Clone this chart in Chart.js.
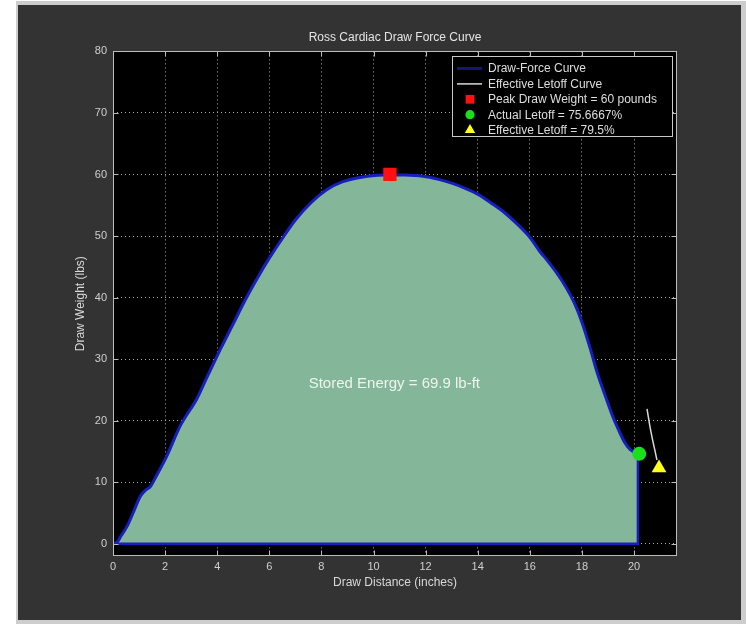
<!DOCTYPE html>
<html>
<head>
<meta charset="utf-8">
<script src="https://cdn.jsdelivr.net/npm/chart.js@4.4.1/dist/chart.umd.min.js"></script>
<style>
html,body{margin:0;padding:0;background:#fff;}
canvas{display:block;}
</style>
</head>
<body>
<canvas id="c" width="746" height="624"></canvas>
<script>
// ---- data ----
const drawDistance = [0, 0.15, 0.3, 0.55, 0.8, 1.05, 1.25, 1.42, 1.6, 2.05, 2.6, 3.2, 3.6, 4.1, 4.6, 5.1, 5.6, 6.0, 6.5, 7.0, 7.6, 8.2, 8.8, 9.6, 10.4, 11.2, 11.9, 12.5, 13.0, 13.5, 14.0, 14.5, 15.0, 15.5, 16.0, 16.4, 16.6, 17.0, 17.4, 17.7, 18.0, 18.3, 18.6, 18.9, 19.2, 19.45, 19.65, 19.85, 20.0, 20.15];
const drawWeight   = [0, 0.2, 1.2, 2.9, 5.3, 7.7, 8.7, 9.2, 10.5, 14.1, 19.3, 23.4, 27.0, 31.4, 35.6, 39.8, 43.6, 46.4, 49.6, 52.6, 55.4, 57.5, 58.8, 59.6, 59.9, 59.9, 59.7, 59.2, 58.6, 57.8, 56.8, 55.4, 53.9, 52.0, 49.8, 47.4, 46.4, 44.2, 41.6, 39.2, 36.0, 32.0, 27.6, 24.0, 20.5, 18.1, 16.4, 15.3, 14.9, 14.6];
const letoffCurveX = [20.5, 20.6, 20.7, 20.8, 20.88];
const letoffCurveY = [21.9, 19.3, 17.1, 15.2, 13.6];
const peakPoint = [{x: 10.63, y: 60}];
const actualLetoffPoint = [{x: 20.2, y: 14.6}];
const effectiveLetoffPoint = [{x: 20.96, y: 12.3}];
const xTicks = [0, 2, 4, 6, 8, 10, 12, 14, 16, 18, 20];
const yTicks = [0, 10, 20, 30, 40, 50, 60, 70, 80];
const legendLabels = ['Draw-Force Curve', 'Effective Letoff Curve', 'Peak Draw Weight = 60 pounds', 'Actual Letoff = 75.6667%', 'Effective Letoff = 79.5%'];
const titleText = 'Ross Cardiac Draw Force Curve';
const xTitle = 'Draw Distance (inches)';
const yTitle = 'Draw Weight (lbs)';
const energyText = 'Stored Energy = 69.9 lb-ft';
const energyAt = {x: 10.8, y: 26};

// ---- build ----
const FONT = "'Liberation Sans', Arial, Helvetica, sans-serif";
const curve = drawDistance.map((x, i) => ({x, y: drawWeight[i]}));
const last = curve[curve.length - 1];
const edge = [{x: last.x, y: last.y}, {x: last.x, y: 0}, {x: drawDistance[0], y: 0}];
const letoff = letoffCurveX.map((x, i) => ({x, y: letoffCurveY[i]}));

const BLUE = 'rgb(22,30,190)';

const bgPlugin = {
  id: 'bg',
  beforeDraw(chart) {
    const ctx = chart.ctx, a = chart.chartArea;
    ctx.save();
    ctx.fillStyle = '#ffffff';
    ctx.fillRect(0, 0, chart.width, chart.height);
    ctx.fillStyle = '#cdcdcd';
    ctx.fillRect(16, 1, chart.width - 16, chart.height - 1);
    ctx.fillStyle = '#333333';
    ctx.fillRect(18, 5, chart.width - 18 - 5, chart.height - 5 - 4);
    ctx.fillStyle = '#000000';
    ctx.fillRect(a.left, a.top, a.right - a.left, a.bottom - a.top);
    ctx.restore();
  }
};

const framePlugin = {
  id: 'frame',
  afterDatasetsDraw(chart) {
    const ctx = chart.ctx, a = chart.chartArea;
    const xs = chart.scales.x, ys = chart.scales.y;
    ctx.save();
    // stored energy text
    ctx.fillStyle = '#eef4ee';
    ctx.font = '15px ' + FONT;
    ctx.textAlign = 'center';
    ctx.textBaseline = 'middle';
    ctx.fillText(energyText, xs.getPixelForValue(energyAt.x), ys.getPixelForValue(energyAt.y));
    // frame
    ctx.strokeStyle = '#bcbcbc';
    ctx.lineWidth = 1;
    const L = Math.round(a.left) + 0.5, R = Math.round(a.right) - 0.5, T = Math.round(a.top) + 0.5, B = Math.round(a.bottom) - 0.5;
    ctx.strokeRect(L, T, R - L, B - T);
    const tl = 5;
    ctx.beginPath();
    xTicks.forEach(v => {
      const p = Math.round(xs.getPixelForValue(v)) + 0.5;
      ctx.moveTo(p, B); ctx.lineTo(p, B - tl);
      ctx.moveTo(p, T); ctx.lineTo(p, T + tl);
    });
    yTicks.forEach(v => {
      const p = Math.round(ys.getPixelForValue(v)) + 0.5;
      ctx.moveTo(L, p); ctx.lineTo(L + tl, p);
      ctx.moveTo(R, p); ctx.lineTo(R - tl, p);
    });
    ctx.stroke();
    ctx.restore();
  },
  afterDraw(chart) {
    // legend box
    const ctx = chart.ctx;
    const bx = 452.5, by = 56.5, bw = 220, bh = 80;
    ctx.save();
    ctx.fillStyle = '#000';
    ctx.fillRect(bx, by, bw, bh);
    ctx.strokeStyle = '#c8c8c8';
    ctx.lineWidth = 1;
    ctx.strokeRect(bx, by, bw, bh);
    const items = chart.data.datasets.filter(d => d.legendIndex !== undefined)
      .sort((p, q) => p.legendIndex - q.legendIndex);
    items.forEach((ds, i) => {
      const y = 68.5 + i * 15.4;
      if (ds.legendKind === 'line') {
        ctx.strokeStyle = ds.legendColor || ds.borderColor;
        ctx.lineWidth = ds.legendWidth || 2;
        ctx.beginPath();
        ctx.moveTo(457, y); ctx.lineTo(482, y);
        ctx.stroke();
      } else {
        ctx.fillStyle = ds.backgroundColor;
        ctx.strokeStyle = ds.backgroundColor;
        Chart.helpers.drawPoint(ctx, {pointStyle: ds.pointStyle, radius: ds.legendRadius, rotation: 0, borderWidth: 0}, 470, y);
      }
      ctx.fillStyle = '#dedede';
      ctx.font = '12px ' + FONT;
      ctx.textAlign = 'left';
      ctx.textBaseline = 'middle';
      ctx.fillText(ds.label, 488, y + 0.5);
    });
    ctx.restore();
  }
};

new Chart(document.getElementById('c'), {
  type: 'scatter',
  data: {
    datasets: [
      {label: legendLabels[2], legendIndex: 2, legendKind: 'marker', legendRadius: 6.2, data: peakPoint, pointStyle: 'rect', pointRadius: 9.4, backgroundColor: '#ff1010', borderWidth: 0, order: 0},
      {label: legendLabels[3], legendIndex: 3, legendKind: 'marker', legendRadius: 4.6, data: actualLetoffPoint, pointStyle: 'circle', pointRadius: 7, backgroundColor: '#19e019', borderWidth: 0, order: 0},
      {label: legendLabels[4], legendIndex: 4, legendKind: 'marker', legendRadius: 6, data: effectiveLetoffPoint, pointStyle: 'triangle', pointRadius: 8.5, backgroundColor: '#ffff1a', borderWidth: 0, order: 0},
      {label: legendLabels[1], legendIndex: 1, legendKind: 'line', legendWidth: 1.5, data: letoff, showLine: true, pointRadius: 0, borderColor: '#d8d8d8', borderWidth: 1.5, tension: 0.2, fill: false, order: 1},
      {label: 'edge', data: edge, showLine: true, pointRadius: 0, borderColor: BLUE, borderWidth: 2.5, tension: 0, fill: false, order: 2},
      {label: legendLabels[0], legendIndex: 0, legendKind: 'line', legendColor: '#14147a', legendWidth: 3, data: curve, showLine: true, pointRadius: 0, borderColor: BLUE, borderWidth: 3, tension: 0.3, fill: 'origin', backgroundColor: 'rgb(132,183,153)', order: 3}
    ]
  },
  options: {
    responsive: false,
    animation: false,
    devicePixelRatio: 1,
    events: [],
    layout: {padding: {left: 0, right: 69, top: 0, bottom: 0}},
    plugins: {
      legend: {display: false},
      tooltip: {enabled: false},
      title: {display: true, fullSize: false, text: titleText, color: '#e4e4e4', font: {family: FONT, size: 12, weight: 'normal'}, padding: {top: 30, bottom: 7}}
    },
    scales: {
      x: {
        type: 'linear', min: 0, max: 21.65,
        afterBuildTicks(s) { s.ticks = xTicks.map(v => ({value: v})); },
        afterFit(s) { s.height = 68; },
        grid: {color: 'rgba(205,205,190,0.85)', lineWidth: 1, drawTicks: false},
        border: {display: false, dash: [1, 3]},
        ticks: {color: '#cfcfcf', font: {family: FONT, size: 11}, padding: 4, maxRotation: 0, autoSkip: false},
        title: {display: true, text: xTitle, color: '#d8d8d8', font: {family: FONT, size: 12}, padding: {top: 0, bottom: 34}}
      },
      y: {
        type: 'linear', min: -2, max: 80,
        afterBuildTicks(s) { s.ticks = yTicks.map(v => ({value: v})); },
        afterFit(s) { s.width = 113; },
        grid: {color: 'rgba(205,205,190,0.85)', lineWidth: 1, drawTicks: false},
        border: {display: false, dash: [1, 3]},
        ticks: {color: '#cfcfcf', font: {family: FONT, size: 11}, padding: 6, autoSkip: false},
        title: {display: true, text: yTitle, color: '#d8d8d8', font: {family: FONT, size: 12}, padding: {top: 73, bottom: 0}}
      }
    }
  },
  plugins: [bgPlugin, framePlugin]
});
</script>
</body>
</html>
